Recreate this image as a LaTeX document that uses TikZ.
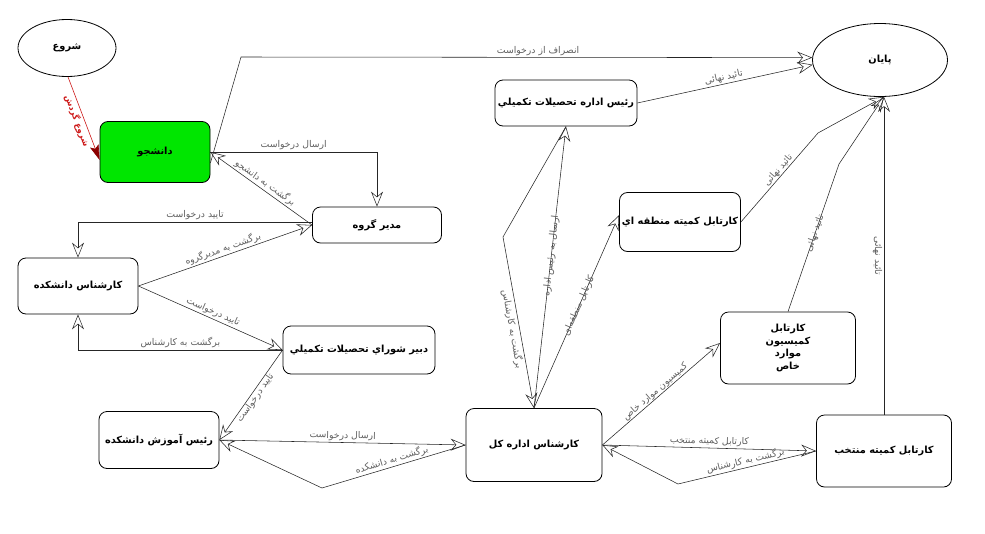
\documentclass[tikz,border=0pt]{standalone}
\usepackage{fontspec}
\usetikzlibrary{arrows.meta,shapes.geometric}
\TeXXeTstate=1
\newfontfamily\farsi[Script=Arabic]{DejaVu Sans}
\newcommand{\fa}[1]{{\farsi\beginR #1\endR}}
\definecolor{stgreen}{RGB}{0,230,0}
\definecolor{lblgray}{RGB}{95,95,95}
\definecolor{startred}{RGB}{205,25,25}
\begin{document}
\begin{tikzpicture}[x=1pt,y=-1pt,
	box/.style={draw,rounded corners=8pt,line width=0.8pt,align=center,inner sep=0pt,font=\farsi\bfseries\fontsize{9.8}{12.5}\selectfont},
	oval/.style={draw,ellipse,line width=0.8pt,inner sep=1pt,font=\farsi\bfseries\fontsize{9.8}{12}\selectfont},
	flow/.style={draw=black!85,line width=0.55pt,-{Stealth[open,length=15pt,width=12pt,inset=5pt]}},
	startline/.style={draw=startred,line width=0.6pt,-{Stealth[length=15pt,width=9pt,inset=3pt,color=red!55!black]}},
	lbl/.style={font=\farsi\fontsize{9.3}{10}\selectfont,text=lblgray,inner sep=1.5pt}]
	
	\useasboundingbox (0,0) rectangle (985,533);
	
	\node[oval,minimum width=98pt,minimum height=57pt] (start) at (67,48) {\fa{شروع}};
	\node[box,fill=stgreen,minimum width=110pt,minimum height=61pt] (stud) at (155,152) {\fa{دانشجو}};
	\node[oval,minimum width=135pt,minimum height=73pt] (endn) at (880,60) {\fa{پایان}};
	\node[box,minimum width=142pt,minimum height=46pt] (raisE) at (566,103) {\fa{رئیس اداره تحصیلات تکمیلي}};
	\node[box,minimum width=129pt,minimum height=36pt] (modir) at (377,225) {\fa{مدیر گروه}};
	\node[box,minimum width=120pt,minimum height=56pt] (karD) at (78,286) {\fa{کارشناس دانشکده}};
	\node[box,minimum width=121pt,minimum height=59pt] (mantaghe) at (680,222) {\fa{کارتابل کمیته منطقه اي}};
	\node[box,minimum width=152pt,minimum height=48pt] (dabir) at (359,350) {\fa{دبیر شوراي تحصیلات تکمیلي}};
	\node[box,minimum width=135pt,minimum height=72pt] (komision) at (788,348) {\fa{کارتابل}\\\fa{کمیسیون}\\\fa{موارد}\\\fa{خاص}};
	\node[box,minimum width=120pt,minimum height=57pt] (raisA) at (159,440) {\fa{رئیس آموزش دانشکده}};
	\node[box,minimum width=136pt,minimum height=73pt] (karE) at (534,445) {\fa{کارشناس اداره کل}};
	\node[box,minimum width=135pt,minimum height=72pt] (montakhab) at (884,451) {\fa{کارتابل کمیته منتخب}};
	
	\coordinate (k1) at (241,57);
	\coordinate (k2) at (322,488);
	\coordinate (k3) at (503,237);
	\coordinate (k4) at (678,484);
	\coordinate (k5) at (818,133);
	\coordinate (k6) at (839,164);
	
	\draw[startline] ([xshift=1pt]start.south) -- node[midway,sloped,below,inner sep=2pt,text=startred,font=\farsi\bfseries\fontsize{8.5}{9}\selectfont]{\fa{شروع گردش}} ([yshift=-8pt]stud.west);
	
	\draw[flow] ([yshift=-11pt]stud.east) -- (k1) -- node[pos=.52,above,lbl]{\fa{انصراف از درخواست}} (endn.178);
	\draw[flow] (stud.east) -| node[pos=.25,above,lbl]{\fa{ارسال درخواست}} (modir.north);
	\draw[flow] (modir.west) -- node[midway,sloped,above,lbl]{\fa{برگشت به دانشجو}} (stud.east);
	\draw[flow] ([yshift=3pt]modir.west) -| node[pos=.25,above,lbl]{\fa{تایید درخواست}} (karD.north);
	\draw[flow] (karD.east) -- node[midway,sloped,above,lbl]{\fa{برگشت به مدیرگروه}} (modir.west);
	\draw[flow] (karD.east) -- node[midway,sloped,above,lbl]{\fa{تایید درخواست}} (dabir.west);
	\draw[flow] (dabir.west) -| node[pos=.25,above,lbl]{\fa{برگشت به کارشناس}} (karD.south);
	\draw[flow] (dabir.west) -- node[midway,sloped,below,lbl,inner sep=0.5pt]{\fa{تایید درخواست}} (raisA.east);
	\draw[flow] (raisA.east) -- node[midway,sloped,above,lbl]{\fa{ارسال درخواست}} (karE.west);
	\draw[flow] (karE.west) -- node[midway,sloped,above,lbl]{\fa{برگشت به دانشکده}} (k2) -- (raisA.east);
	
	\draw[flow] (karE.north) -- node[pos=.54,sloped,lbl]{\fa{ارسال به رئیس اداره}} (raisE.south);
	\draw[flow] (raisE.south) -- (k3) -- node[pos=.53,sloped,below,lbl]{\fa{برگشت به کارشناس}} (karE.north);
	\draw[flow] (karE.north) -- node[pos=.53,sloped,lbl]{\fa{کارتابل منطقه‌ای}} ([yshift=7pt]mantaghe.west);
	\draw[flow] (karE.east) -- node[pos=.48,sloped,above,lbl,inner sep=0.5pt]{\fa{کمیسیون موارد خاص}} ([yshift=5pt]komision.west);
	\draw[flow] (karE.east) -- node[midway,sloped,above,lbl]{\fa{کارتابل کمیته منتخب}} (montakhab.west);
	\draw[flow] (montakhab.west) -- node[midway,sloped,above,lbl]{\fa{برگشت به کارشناس}} (k4) -- (karE.east);
	
	\draw[flow] (raisE.east) -- node[midway,sloped,above,lbl]{\fa{تائید نهائی}} (endn.184);
	\draw[flow] (mantaghe.east) -- node[pos=.54,sloped,above,lbl,inner sep=0.5pt]{\fa{تائید نهائی}} (k5) -- (endn.-84);
	\draw[flow] (komision.north) -- node[pos=.53,sloped,lbl]{\fa{تائید نهائی}} (k6) -- (endn.-84);
	\draw[flow] (montakhab.north) -- node[midway,rotate=-90,below,lbl]{\fa{تائید نهائی}} (montakhab.north |- endn.south);
	
\end{tikzpicture}
\end{document}
